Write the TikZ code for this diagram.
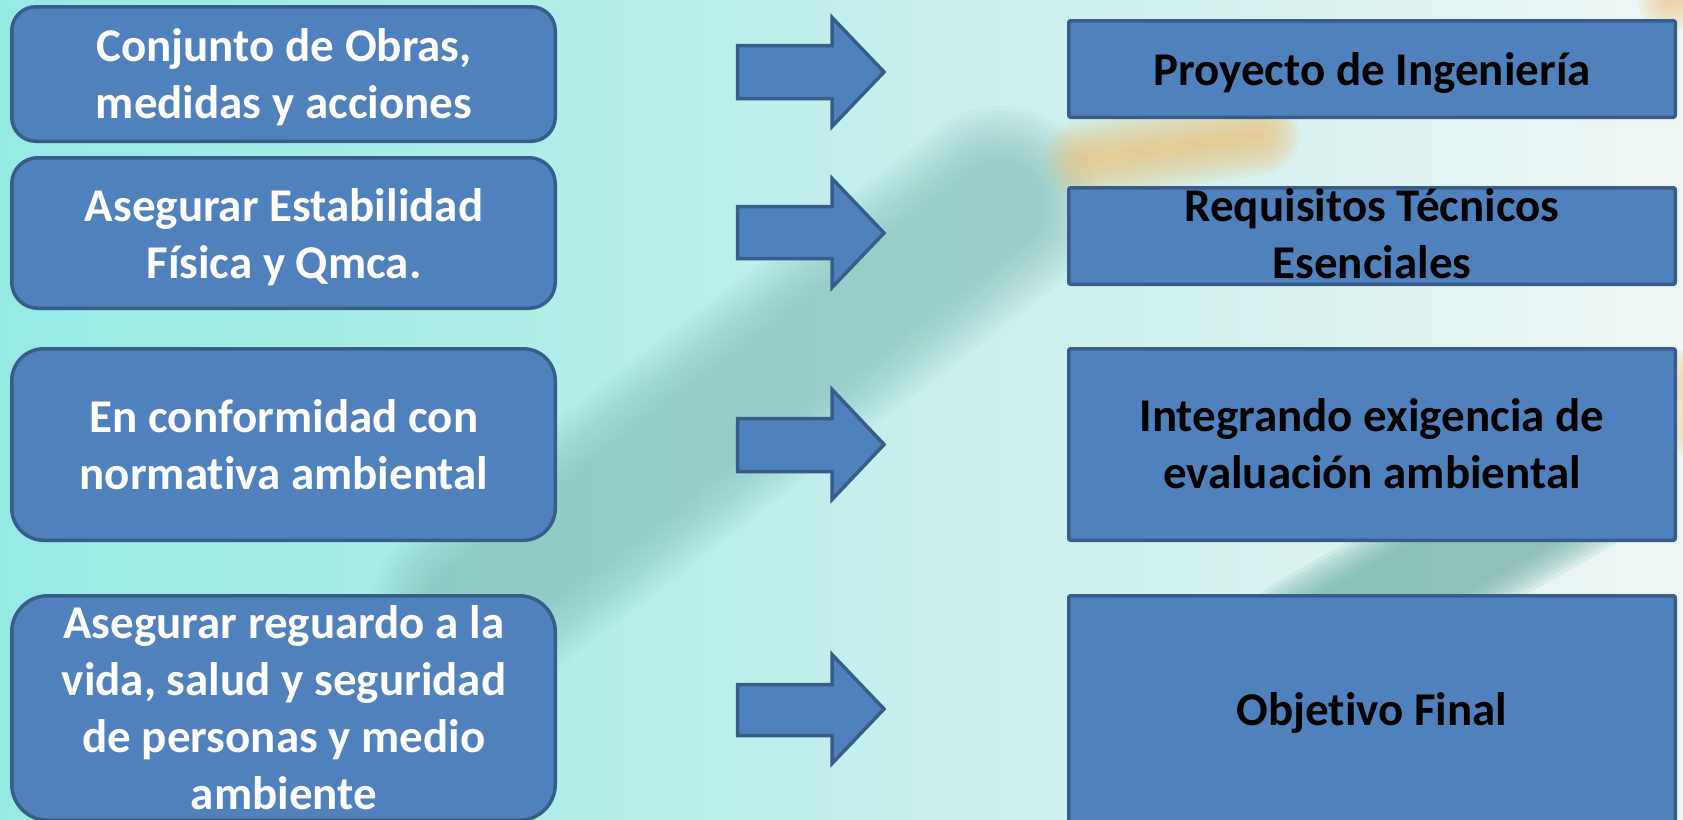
\documentclass[tikz,border=0pt]{standalone}
\usepackage{fontspec}
\setmainfont{Carlito}[Ligatures=NoCommon]
\definecolor{boxblue}{RGB}{79,129,189}
\definecolor{boxedge}{RGB}{56,93,138}
\definecolor{bgL}{RGB}{148,234,227}
\definecolor{bgM}{RGB}{200,240,237}
\definecolor{bgR}{RGB}{238,245,244}
\definecolor{streak}{RGB}{125,185,178}
\definecolor{streakb}{RGB}{105,172,163}
\definecolor{orangeglow}{RGB}{238,190,115}
\begin{document}
\begin{tikzpicture}[x=1pt,y=-1pt,
  boxbase/.style={fill=boxblue, draw=boxedge, line width=3.5pt, inner sep=0pt, outer sep=0pt},
  lbox/.style={boxbase, rectangle, rounded corners=#1, minimum width=543.5pt},
  rbox/.style={boxbase, rectangle, rounded corners=2pt, minimum width=606.5pt},
  blockarrow/.style={fill=boxblue, draw=boxedge, line width=3.5pt, line join=miter},
  txt/.style={align=center, inner sep=0pt, font=\fontsize{47}{57}\selectfont\bfseries},
  ltext/.style={txt, text=white},
  rtext/.style={txt, text=black},
  glow/.style={line cap=round, draw=#1},
]
\useasboundingbox (0,0) rectangle (1683,819);
\clip (0,0) rectangle (1683,819);
% background
\shade[left color=bgL, middle color=bgM, right color=bgR] (0,0) rectangle (1683,819);
% teal streak (lower left to upper right)
\foreach \i in {0,...,12}{
  \pgfmathsetmacro\w{90+9*\i}
  \draw[glow=streak, line width=\w pt, opacity=0.06] (470,610) -- (1000,205);}
% orange glow
\foreach \i in {1,...,10}{
  \pgfmathsetmacro\w{8*\i}
  \draw[glow=orangeglow, line width=\w pt, opacity=0.11] (1085,160) -- (1260,135);}
\foreach \i in {1,...,8}{
  \pgfmathsetmacro\w{8*\i}
  \draw[glow=orangeglow, line width=\w pt, opacity=0.1] (1670,0) -- (1700,-10);}
\foreach \i in {1,...,8}{
  \pgfmathsetmacro\w{8*\i}
  \draw[glow=orangeglow, line width=\w pt, opacity=0.1] (1695,380) -- (1700,430);}
% second teal band
\foreach \i in {0,...,8}{
  \pgfmathsetmacro\w{70+8*\i}
  \draw[glow=streakb, line width=\w pt, opacity=0.12] (1310,640) -- (1575,490);}

% left boxes
\node[lbox=24pt, minimum height=134.5pt] (L1) at (283.5,74) {};
\node[lbox=26pt, minimum height=150.5pt] (L2) at (283.5,233) {};
\node[lbox=32pt, minimum height=191.5pt] (L3) at (283.5,444.5) {};
\node[lbox=36pt, minimum height=224.5pt] (L4) at (283.5,708) {};
% right boxes
\node[rbox, minimum height=96.5pt] (R1) at (1372,69) {};
\node[rbox, minimum height=96.5pt] (R2) at (1372,236) {};
\node[rbox, minimum height=191.5pt] (R3) at (1372,444.5) {};
\node[rbox, minimum height=232.5pt] (R4) at (1372,712) {};

% block arrows
\newcommand{\blockarr}[5]{%
  \draw[blockarrow] (737.5,#2) -- (832,#2) -- (832,#1) -- (884,#5) -- (832,#4) -- (832,#3) -- (737.5,#3) -- cycle;}
\blockarr{17.5}{45.5}{98.5}{126.5}{72}
\blockarr{178.5}{206.5}{258.5}{287.5}{233}
\blockarr{389.5}{418.5}{471.5}{499.5}{444.5}
\blockarr{654.5}{684.5}{735.5}{763.5}{709}

% texts
\node[ltext] (T1) at (284,78.6) {Conjunto de Obras,\strut\\medidas y acciones\strut};
\node[ltext] (T2) at (284,238.6) {Asegurar Estabilidad\strut\\Física y Qmca.\strut};
\node[ltext] (T3) at (284,449.1) {En conformidad con\strut\\normativa ambiental\strut};
\node[ltext] (T4) at (284,712.6) {Asegurar reguardo a la\strut\\vida, salud y seguridad\strut\\de personas y medio\strut\\ambiente\strut};
\node[rtext] (S1) at (1372,73.6) {Proyecto de Ingeniería\strut};
\node[rtext] (S2) at (1372,238.6) {Requisitos Técnicos\strut\\Esenciales\strut};
\node[rtext] (S3) at (1372,448.6) {Integrando exigencia de\strut\\evaluación ambiental\strut};
\node[rtext] (S4) at (1372,713.6) {Objetivo Final\strut};
\end{tikzpicture}
\end{document}
